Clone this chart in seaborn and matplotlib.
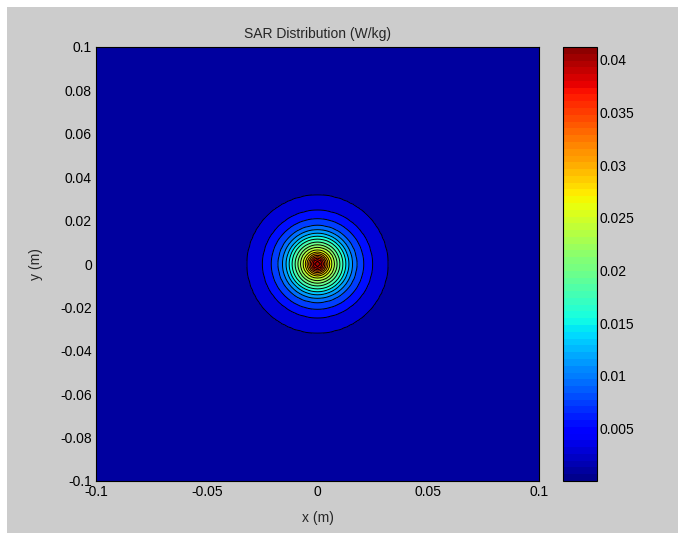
import numpy as np
import matplotlib
matplotlib.use("Agg")
import matplotlib.pyplot as plt
from matplotlib.colors import ListedColormap, Normalize
from matplotlib.patches import Rectangle
import matplotlib.cm as cm
import seaborn as sns

# ---- data ----
# radial distance from the centre (m) and SAR value (W/kg) at that distance
radius_m = [0.0, 0.0012, 0.0020, 0.0027, 0.0033, 0.0040, 0.0047, 0.0055, 0.0064,
            0.0077, 0.0088, 0.0101, 0.0115, 0.0128, 0.0141, 0.0158, 0.0178,
            0.0208, 0.0248, 0.0316, 0.0400, 0.0600, 0.1000, 0.1500]
sar_wkg = [0.0412, 0.0395, 0.0372, 0.0350, 0.0330, 0.0309, 0.0288, 0.0268, 0.0247,
           0.0227, 0.0206, 0.0185, 0.0165, 0.0144, 0.0124, 0.0103, 0.0082,
           0.0062, 0.0041, 0.0021, 0.0009, 0.0004, 0.0001, 0.00002]
sar_min = 0.00002
sar_max = 0.0412
n_levels = 20

x_ticks = [-0.1, -0.05, 0, 0.05, 0.1]
x_tick_labels = ["-0.1", "-0.05", "0", "0.05", "0.1"]
y_ticks = [-0.1, -0.08, -0.06, -0.04, -0.02, 0, 0.02, 0.04, 0.06, 0.08, 0.1]
y_tick_labels = ["-0.1", "-0.08", "-0.06", "-0.04", "-0.02", "0",
                 "0.02", "0.04", "0.06", "0.08", "0.1"]
cb_ticks = [0.005, 0.01, 0.015, 0.02, 0.025, 0.03, 0.035, 0.04]
cb_tick_labels = ["0.005", "0.01", "0.015", "0.02", "0.025", "0.03", "0.035", "0.04"]

title = "SAR Distribution (W/kg)"
xlabel = "x (m)"
ylabel = "y (m)"

# ---- style ----
sns.set_style("white")
plt.rcParams["font.family"] = ["Liberation Sans", "DejaVu Sans"]
plt.rcParams["font.size"] = 10

jet64 = ListedColormap(sns.mpl_palette("jet", 64))

# field on a grid
g = np.linspace(-0.1, 0.1, 151)
X, Y = np.meshgrid(g, g)
R = np.hypot(X, Y)
Z = np.interp(R, radius_m, sar_wkg)

levels = np.linspace(sar_min, sar_max, n_levels + 1)
norm = Normalize(vmin=sar_min, vmax=sar_max)

fig = plt.figure(figsize=(6.78, 5.33), dpi=100, facecolor="white")
fig.patches.append(Rectangle((7 / 678, 0), 1, 1 - 7 / 533, transform=fig.transFigure,
                             facecolor="#cccccc", edgecolor="none", zorder=-10))

ax = fig.add_axes([96 / 678, 1 - 481 / 533, 443 / 678, 434 / 533])
ax.contourf(X, Y, Z, levels=levels, cmap=jet64, norm=norm)
ax.contour(X, Y, Z, levels=levels[1:-1], colors="black", linewidths=0.7)
ax.set_xlim(-0.1, 0.1)
ax.set_ylim(-0.1, 0.1)
ax.set_xticks(x_ticks)
ax.set_xticklabels(x_tick_labels)
ax.set_yticks(y_ticks)
ax.set_yticklabels(y_tick_labels)
ax.tick_params(direction="in", top=True, right=True, length=3, width=0.6,
               labelsize=10, pad=3, colors="black")
for s in ax.spines.values():
    s.set_color("black")
    s.set_linewidth(0.8)
ax.set_title(title, fontsize=10, pad=6.5)
ax.set_xlabel(xlabel, fontsize=10, labelpad=8.5)
ax.set_ylabel(ylabel, fontsize=10, labelpad=12)

cax = fig.add_axes([563 / 678, 1 - 481 / 533, 34 / 678, 434 / 533])
sm = cm.ScalarMappable(norm=norm, cmap=jet64)
cb = fig.colorbar(sm, cax=cax)
cb.set_ticks(cb_ticks)
cb.set_ticklabels(cb_tick_labels)
cax.tick_params(direction="in", left=True, right=True, length=3, width=0.6,
                labelsize=10, pad=2, colors="black")
cb.outline.set_edgecolor("black")
cb.outline.set_linewidth(0.8)

fig.savefig("out.png", dpi=100, facecolor=fig.get_facecolor())
